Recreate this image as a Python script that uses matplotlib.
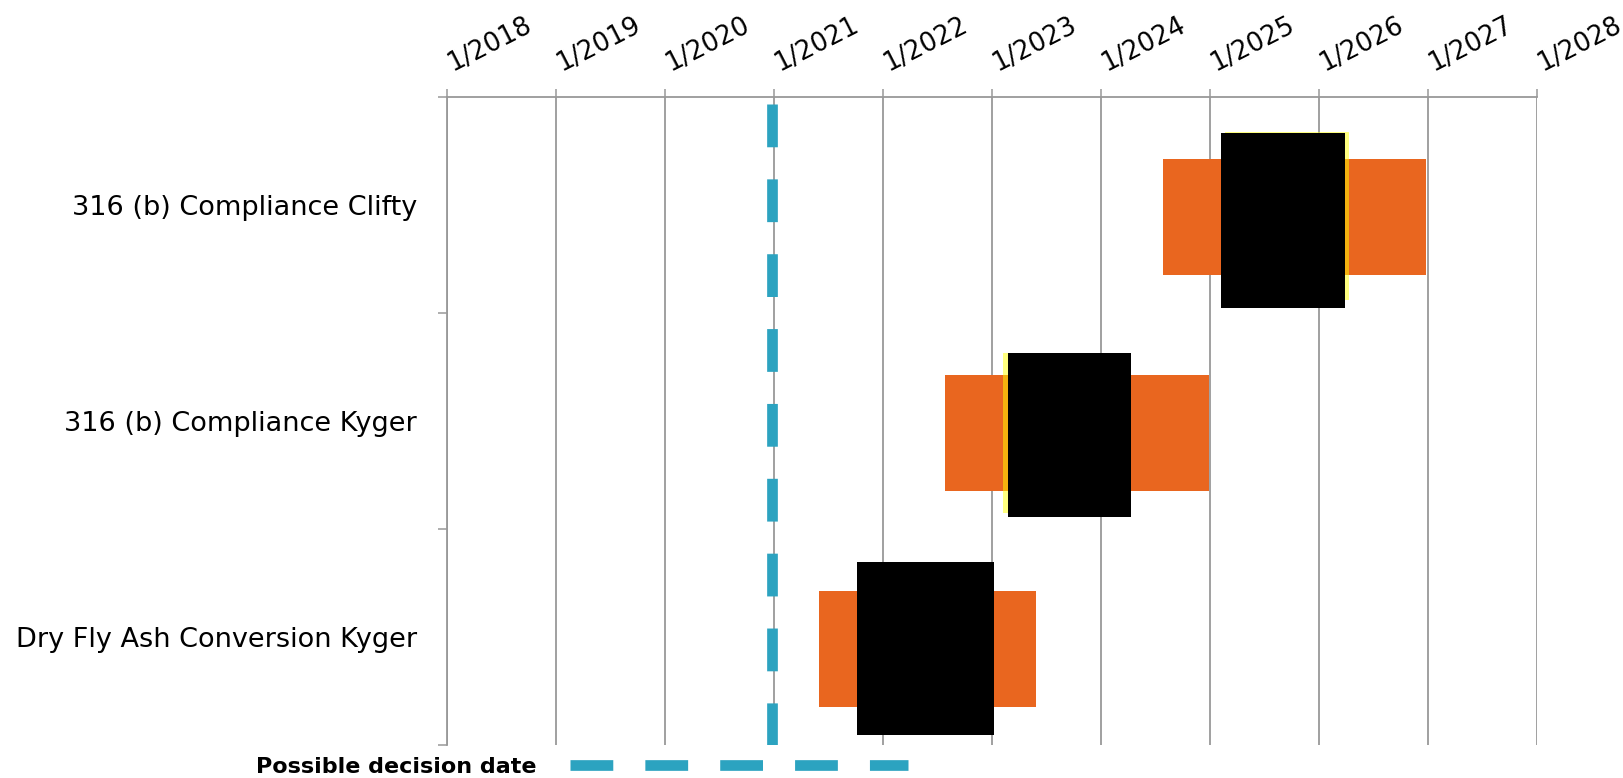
import matplotlib
matplotlib.use("Agg")
import matplotlib.pyplot as plt
from matplotlib.transforms import ScaledTranslation

# chart data (decimal years)
categories = ["316 (b) Compliance Clifty", "316 (b) Compliance Kyger", "Dry Fly Ash Conversion Kyger"]
range_start = [2024.57, 2022.57, 2021.41]
range_end = [2026.98, 2024.99, 2023.40]
likely_start = [2025.10, 2023.15, 2021.76]
likely_end = [2026.24, 2024.275, 2023.02]
marker_start = [2025.14, 2023.10]
marker_end = [2026.275, 2024.23]
decision_date = 2020.98
years = list(range(2018, 2029))
year_labels = ["1/%d" % y for y in years]

# colours / styles
orange = "#E9661F"
teal = "#2CA3C0"
grid_col = "#999999"

fig = plt.figure(figsize=(16.23, 7.78), dpi=100)
W, H = 1623, 778
ax = fig.add_axes([447 / W, 1 - 745 / H, (1537 - 447) / W, (745 - 97) / H])

rows = range(len(categories))
# outer range (orange)
ax.barh([r + 0.555 for r in rows], [e - s for s, e in zip(range_start, range_end)],
        left=range_start, height=0.535, color=orange, zorder=2)
# thin yellow marker behind the black box
ax.barh([0.55, 1.5555], [e - s for s, e in zip(marker_start, marker_end)],
        left=marker_start, height=[0.78, 0.741], color="#FFFF00", alpha=0.5, zorder=3)
# likely range (black)
ax.barh([0.57, 1.5645, 2.5525], [e - s for s, e in zip(likely_start, likely_end)],
        left=likely_start, height=[0.81, 0.759, 0.80], color="black", zorder=4)

# decision date
ax.plot([decision_date, decision_date], [0.033, 3], color=teal, lw=7.7,
        linestyle=(0, (4, 3)), dash_capstyle="butt", zorder=5,
        label="Possible decision date")

ax.set_xlim(2018, 2028)
ax.set_ylim(3, 0)

ax.xaxis.tick_top()
ax.set_xticks(years)
ax.set_xticklabels(year_labels, fontsize=18.5)
ax.tick_params(axis="x", direction="out", length=6, width=1.1, color=grid_col, pad=10)
# nudge the rotated year labels a little right/down (after tick_params, which resets transforms)
shift = ScaledTranslation(8 / 100, -2 / 100, fig.dpi_scale_trans)
for lbl in ax.get_xticklabels():
    lbl.set_rotation(27)
    lbl.set_ha("left")
    lbl.set_va("bottom")
    lbl.set_rotation_mode("anchor")
    lbl.set_transform(lbl.get_transform() + shift)

ax.set_yticks([0, 1, 2, 3])
ax.set_yticklabels([])
ax.set_yticks([r + 0.5 for r in rows], minor=True)
ax.set_yticklabels(categories, minor=True, fontsize=19.5)
ax.tick_params(axis="y", which="major", direction="out", length=6.5, width=1.1, color=grid_col)
ax.tick_params(axis="y", which="minor", length=0, pad=21.6)

ax.grid(axis="x", color=grid_col, lw=1.3)
ax.set_axisbelow(True)
for side in ["right", "bottom"]:
    ax.spines[side].set_visible(False)
for side in ["top", "left"]:
    ax.spines[side].set_color(grid_col)
    ax.spines[side].set_linewidth(1.3)

ax.legend(loc="center left", bbox_to_anchor=(256 / W, 1 - 767 / H), bbox_transform=fig.transFigure,
          frameon=False, markerfirst=False, handlelength=15.2, handletextpad=1.5,
          borderpad=0, borderaxespad=0, prop={"size": 16, "weight": "bold"})

fig.savefig("out.png", dpi=100)
